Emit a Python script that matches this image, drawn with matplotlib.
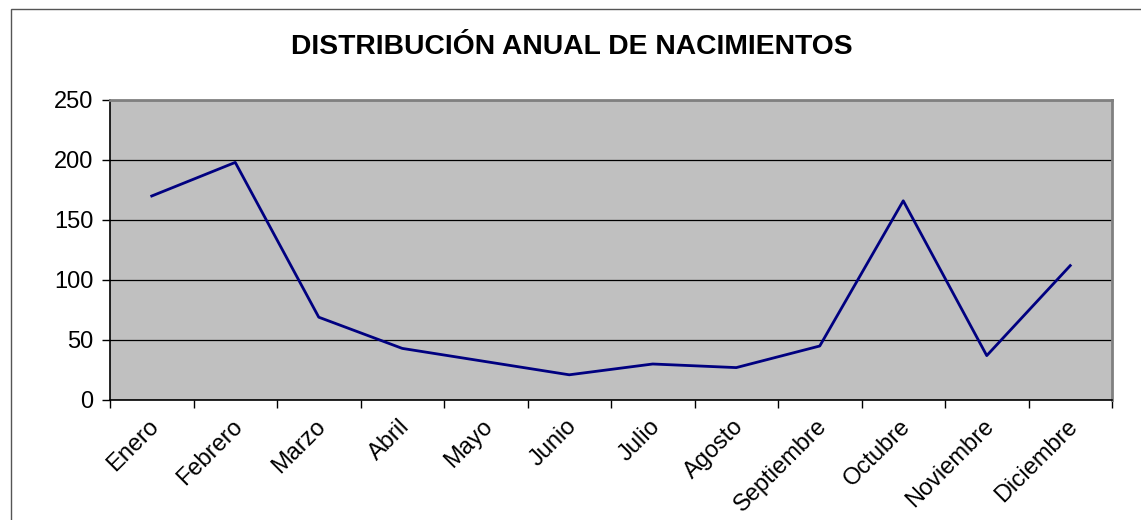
import matplotlib
matplotlib.use("Agg")
import matplotlib.pyplot as plt
from matplotlib.patches import Rectangle
import matplotlib.transforms as mtransforms
import numpy as np

months = ["Enero", "Febrero", "Marzo", "Abril", "Mayo", "Junio", "Julio",
          "Agosto", "Septiembre", "Octubre", "Noviembre", "Diciembre"]
births = [170, 198, 69, 43, 32, 21, 30, 27, 45, 166, 37, 112]
yticks = [0, 50, 100, 150, 200, 250]
title = "DISTRIBUCIÓN ANUAL DE NACIMIENTOS"

plt.rcParams['font.family'] = ['Liberation Sans', 'DejaVu Sans']

W, H = 1141, 520
fig = plt.figure(figsize=(W / 100, H / 100), dpi=100)

# outer chart frame
fig.patches.append(Rectangle((11 / W, -0.1), 1.2, (H - 9) / H + 0.1,
                             transform=fig.transFigure, fill=False,
                             edgecolor="#555555", linewidth=1.0))

ax = fig.add_axes([110 / W, 120 / H, (1112 - 110) / W, 300 / H])
ax.set_facecolor("#C0C0C0")
x = np.arange(len(months))
ax.plot(x, births, color="#000080", linewidth=2.0, zorder=3)

ax.set_xlim(-0.5, len(months) - 0.5)
ax.set_ylim(0, 250)
ax.set_yticks(yticks)
ax.yaxis.grid(True, color="black", linewidth=0.9)
ax.set_axisbelow(True)

ax.set_xticks(x)
ax.set_xticklabels(months, rotation=45, ha="right", va="top",
                   rotation_mode="anchor", fontsize=17)
ax.tick_params(axis="x", which="major", length=0, pad=11)
ax.set_xticks(np.arange(-0.5, len(months)), minor=True)
ax.tick_params(axis="x", which="minor", length=6, width=1, direction="out")
ax.tick_params(axis="y", length=6, width=1, direction="out", labelsize=17, pad=6)

offset = mtransforms.ScaledTranslation(-4 / 100, 0, fig.dpi_scale_trans)
for lbl in ax.get_xticklabels():
    lbl.set_transform(lbl.get_transform() + offset)

for s in ["top", "right"]:
    ax.spines[s].set_color("#808080")
    ax.spines[s].set_linewidth(2.0)
for s in ["left", "bottom"]:
    ax.spines[s].set_color("black")
    ax.spines[s].set_linewidth(1.2)

fig.text(572 / W, 1 - 47 / H, title, ha="center", va="center",
         fontsize=20.3, fontweight="bold")

fig.savefig("out.png", dpi=100)
